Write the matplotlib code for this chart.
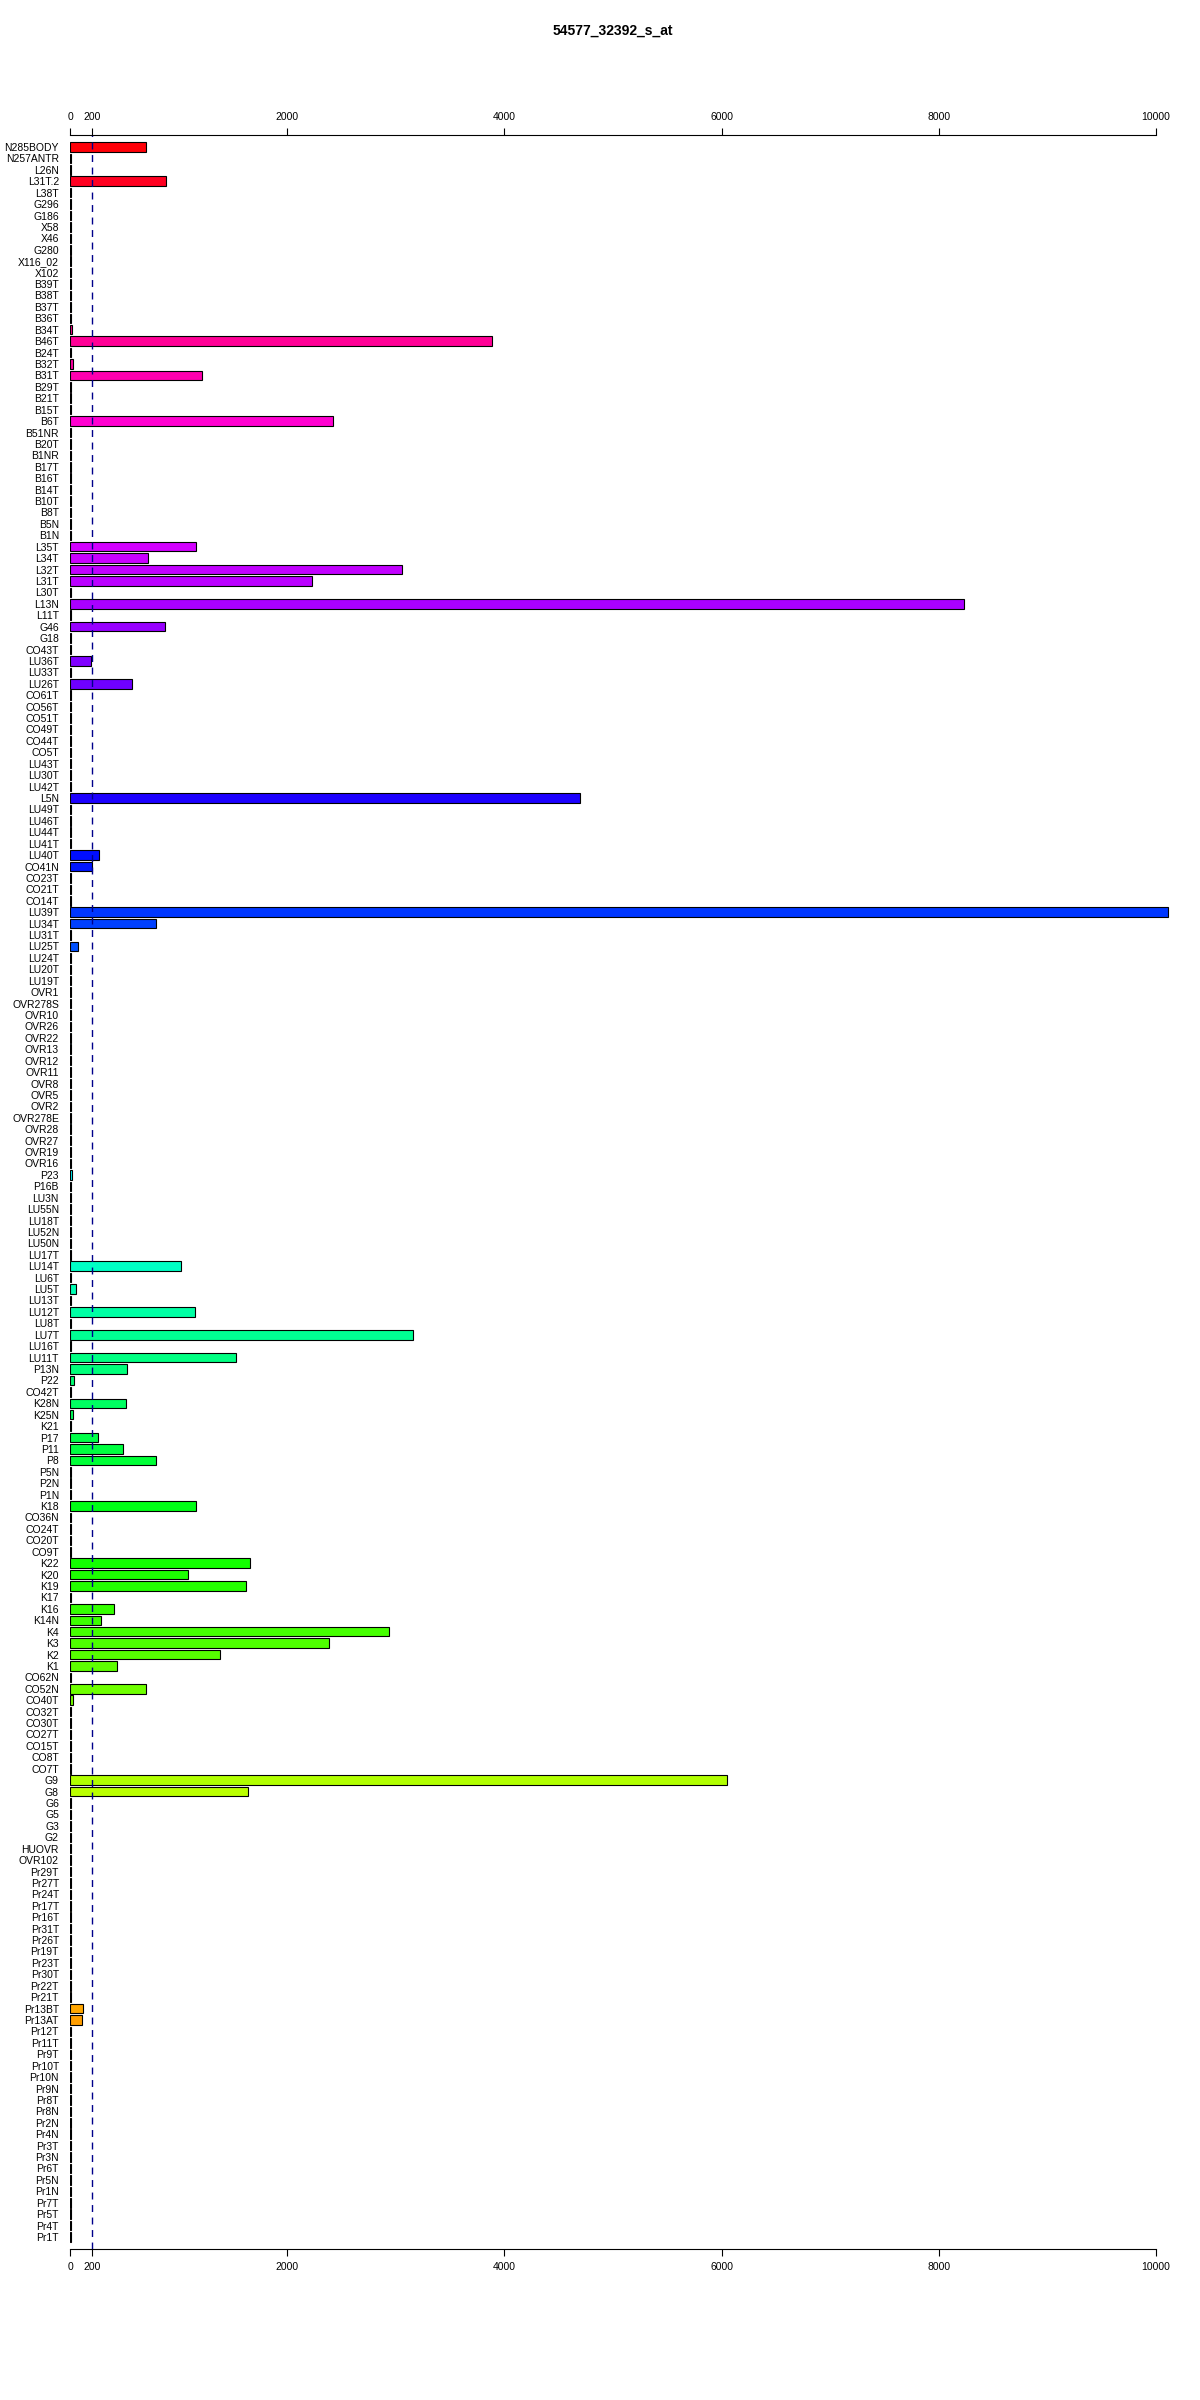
import numpy as np
import matplotlib.pyplot as plt
from matplotlib.colors import hsv_to_rgb

plt.rcParams['font.family'] = ['Liberation Sans', 'DejaVu Sans']

title = "54577_32392_s_at"

# sample names, top to bottom
samples = [
    "N285BODY", "N257ANTR", "L26N", "L31T.2", "L38T", "G296", "G186", "X58", "X46", "G280", "X116_02", "X102", "B39T",
    "B38T", "B37T", "B36T", "B34T", "B46T", "B24T", "B32T", "B31T", "B29T", "B21T", "B15T", "B6T", "B51NR", "B20T", "B1NR", "B17T", "B16T",
    "B14T", "B10T", "B8T", "B5N", "B1N", "L35T", "L34T", "L32T", "L31T", "L30T", "L13N", "L11T", "G46", "G18", "CO43T", "LU36T", "LU33T",
    "LU26T", "CO61T", "CO56T", "CO51T", "CO49T", "CO44T", "CO5T", "LU43T", "LU30T", "LU42T", "L5N", "LU49T", "LU46T", "LU44T", "LU41T", "LU40T", "CO41N",
    "CO23T", "CO21T", "CO14T", "LU39T", "LU34T", "LU31T", "LU25T", "LU24T", "LU20T", "LU19T", "OVR1", "OVR278S", "OVR10", "OVR26", "OVR22", "OVR13", "OVR12",
    "OVR11", "OVR8", "OVR5", "OVR2", "OVR278E", "OVR28", "OVR27", "OVR19", "OVR16", "P23", "P16B", "LU3N", "LU55N", "LU18T", "LU52N", "LU50N", "LU17T",
    "LU14T", "LU6T", "LU5T", "LU13T", "LU12T", "LU8T", "LU7T", "LU16T", "LU11T", "P13N", "P22", "CO42T", "K28N", "K25N", "K21", "P17", "P11",
    "P8", "P5N", "P2N", "P1N", "K18", "CO36N", "CO24T", "CO20T", "CO9T", "K22", "K20", "K19", "K17", "K16", "K14N", "K4", "K3",
    "K2", "K1", "CO62N", "CO52N", "CO40T", "CO32T", "CO30T", "CO27T", "CO15T", "CO8T", "CO7T", "G9", "G8", "G6", "G5", "G3", "G2",
    "HUOVR", "OVR102", "Pr29T", "Pr27T", "Pr24T", "Pr17T", "Pr16T", "Pr31T", "Pr26T", "Pr19T", "Pr23T", "Pr30T", "Pr22T", "Pr21T", "Pr13BT", "Pr13AT", "Pr12T",
    "Pr11T", "Pr9T", "Pr10T", "Pr10N", "Pr9N", "Pr8T", "Pr8N", "Pr2N", "Pr4N", "Pr3T", "Pr3N", "Pr6T", "Pr5N", "Pr1N", "Pr7T", "Pr5T", "Pr4T", "Pr1T",
]

# expression values, same order
values = [
    697, 5, 5, 881, 5, 5, 5, 5, 5, 5, 5, 5, 5,
    5, 5, 5, 20, 3890, 5, 30, 1218, 5, 5, 5, 2426, 5, 5, 5, 5, 5,
    5, 5, 5, 5, 5, 1157, 715, 3060, 2228, 5, 8230, 5, 872, 5, 5, 196, 5,
    568, 5, 5, 5, 5, 5, 5, 5, 5, 5, 4697, 5, 5, 5, 5, 264, 206,
    5, 5, 5, 10110, 789, 5, 71, 5, 5, 5, 5, 5, 5, 5, 5, 5, 5,
    5, 5, 5, 5, 5, 5, 5, 5, 5, 15, 5, 5, 5, 5, 5, 5, 5,
    1019, 5, 58, 5, 1148, 5, 3159, 5, 1526, 522, 40, 5, 513, 25, 5, 255, 485,
    795, 5, 5, 5, 1157, 5, 5, 5, 5, 1660, 1084, 1617, 5, 402, 283, 2934, 2384,
    1378, 430, 5, 697, 25, 5, 5, 5, 5, 5, 5, 6051, 1636, 5, 5, 5, 5,
    5, 5, 5, 5, 5, 5, 5, 5, 5, 5, 5, 5, 5, 5, 117, 107, 5,
    5, 5, 5, 5, 5, 5, 5, 5, 5, 5, 5, 5, 5, 5, 5, 5, 5, 5,
]

xticks = [0, 200, 2000, 4000, 6000, 8000, 10000]
cutoff = 200

n = len(samples)
ypos = np.arange(n)
# reversed rainbow over the bars
hues = (n - 1 - ypos) / n
colors = hsv_to_rgb(np.column_stack([hues, np.ones(n), np.ones(n)]))

fig = plt.figure(figsize=(12, 24), dpi=100)
ax = fig.add_axes([70 / 1200, 1 - 2249 / 2400, 1129.4 / 1200, (2249 - 135) / 2400])

ax.barh(ypos, values, height=1 / 1.2, color=colors, edgecolor='black', linewidth=0.8)
ax.axvline(cutoff, color='#00008B', linestyle=(0, (5, 4)), linewidth=1)

ax.set_xlim(0, 10400)
ax.set_ylim(n - 1 + 1.05, -1.05)

for s in ['left', 'right']:
    ax.spines[s].set_visible(False)
for s in ['top', 'bottom']:
    ax.spines[s].set_bounds(0, 10000)
    ax.spines[s].set_linewidth(0.8)

ax.set_xticks(xticks)
ax.set_xticklabels([str(t) for t in xticks])
ax.tick_params(axis='x', top=True, labeltop=True, bottom=True, labelbottom=True,
               direction='out', length=5, width=0.8, labelsize=7.5, pad=4.5)
ax.set_yticks(ypos)
ax.set_yticklabels(samples, fontsize=7.5)
ax.tick_params(axis='y', length=0, pad=8)

fig.text(613 / 1200, 1 - 31 / 2400, title, ha='center', va='center',
         fontsize=10, fontweight='bold')

fig.savefig('out.png', dpi=100)
